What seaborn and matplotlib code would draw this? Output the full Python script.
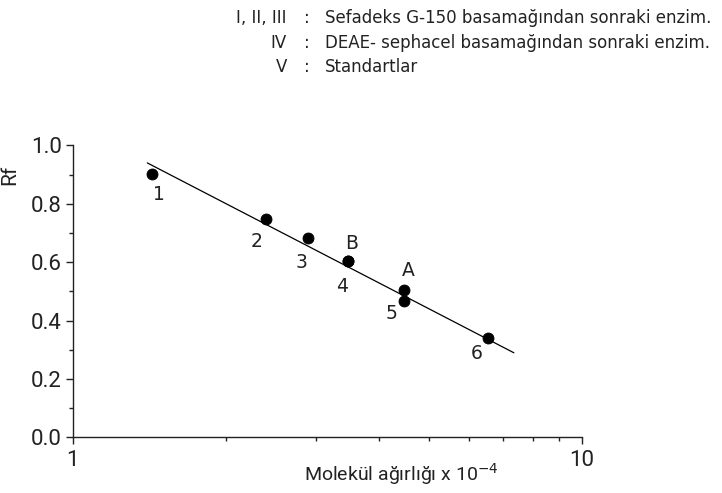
import numpy as np
import pandas as pd
import seaborn as sns
import matplotlib.pyplot as plt
from matplotlib.ticker import MultipleLocator, FixedLocator, NullFormatter

# points (molecular weight x 10^-4, Rf)
labels = ["1", "2", "3", "4", "5", "6", "A", "B"]
mw = [1.43, 2.40, 2.90, 3.47, 4.47, 6.54, 4.47, 3.47]
rf = [0.902, 0.748, 0.683, 0.604, 0.467, 0.341, 0.505, 0.604]
# label offsets in points (dx, dy), centred
label_dx = [5, -7, -5, -4, -9, -8, 3, 3]
label_dy = [-15, -16, -18, -18, -9, -11.5, 14, 13]

# fitted standard curve, endpoints
line_x = [1.40, 7.35]
line_y = [0.94, 0.29]

legend_keys = ["I, II, III", "IV", "V"]
legend_text = ["Sefadeks G-150 basamağından sonraki enzim.",
               "DEAE- sephacel basamağından sonraki enzim.",
               "Standartlar"]

df = pd.DataFrame({"mw": mw, "rf": rf, "label": labels})
line_df = pd.DataFrame({"mw": line_x, "rf": line_y})

sns.set_style("ticks")
plt.rcParams["font.family"] = ["DejaVu Sans"]
narrow = ["Liberation Sans Narrow", "Roboto", "DejaVu Sans"]
ink = "#222222"

fig = plt.figure(figsize=(7.22, 4.93), dpi=100)
ax = fig.add_axes([0.101, 0.1126, 0.705, 0.5925])

sns.lineplot(data=line_df, x="mw", y="rf", color="black", linewidth=0.9, ax=ax)
sns.scatterplot(data=df, x="mw", y="rf", color="black", s=62, edgecolor="black",
                ax=ax, zorder=3)

for lab, x, y, dx, dy in zip(labels, mw, rf, label_dx, label_dy):
    ax.annotate(lab, (x, y), xytext=(dx, dy), textcoords="offset points",
                fontsize=13.5, color=ink, ha="center", va="center")

ax.set_xscale("log")
ax.set_xlim(1, 10)
ax.set_ylim(0, 1.0)
ax.xaxis.set_major_locator(FixedLocator([1, 10]))
ax.set_xticklabels(["1", "10"])
ax.xaxis.set_minor_locator(FixedLocator([2, 3, 4, 5, 6, 7, 8, 9]))
ax.xaxis.set_minor_formatter(NullFormatter())
ax.yaxis.set_major_locator(MultipleLocator(0.2))
ax.yaxis.set_minor_locator(MultipleLocator(0.1))
ax.yaxis.set_major_formatter(plt.FuncFormatter(lambda v, p: f"{v:.1f}"))

ax.tick_params(axis="both", which="major", labelsize=16, length=5, width=1, colors=ink)
ax.tick_params(axis="both", which="minor", length=3, width=1, colors=ink)
ax.tick_params(axis="x", which="major", pad=4)
ax.tick_params(axis="y", which="major", pad=3)
for t in ax.get_xticklabels() + ax.get_yticklabels():
    t.set_family(narrow)
for s in ["left", "bottom"]:
    ax.spines[s].set_linewidth(1)
    ax.spines[s].set_color(ink)
sns.despine(ax=ax)

ax.set_xlabel("Molekül ağırlığı x 10$^{-4}$", fontsize=14, color=ink, family=narrow)
ax.xaxis.set_label_coords(0.645, -0.082)
ax.set_ylabel("Rf", fontsize=15, color=ink, family=narrow)
ax.yaxis.set_label_coords(-0.106, 0.9)

# legend block above the plot
for i, (k, t) in enumerate(zip(legend_keys, legend_text)):
    yy = 1 - (18 + i * 24.5) / 493
    fig.text(287 / 722, yy, k, ha="right", va="center", fontsize=12, color=ink)
    fig.text(307 / 722, yy, ":", ha="center", va="center", fontsize=12, color=ink)
    fig.text(325 / 722, yy, t, ha="left", va="center", fontsize=12, color=ink)

fig.savefig("out.png", dpi=100)
